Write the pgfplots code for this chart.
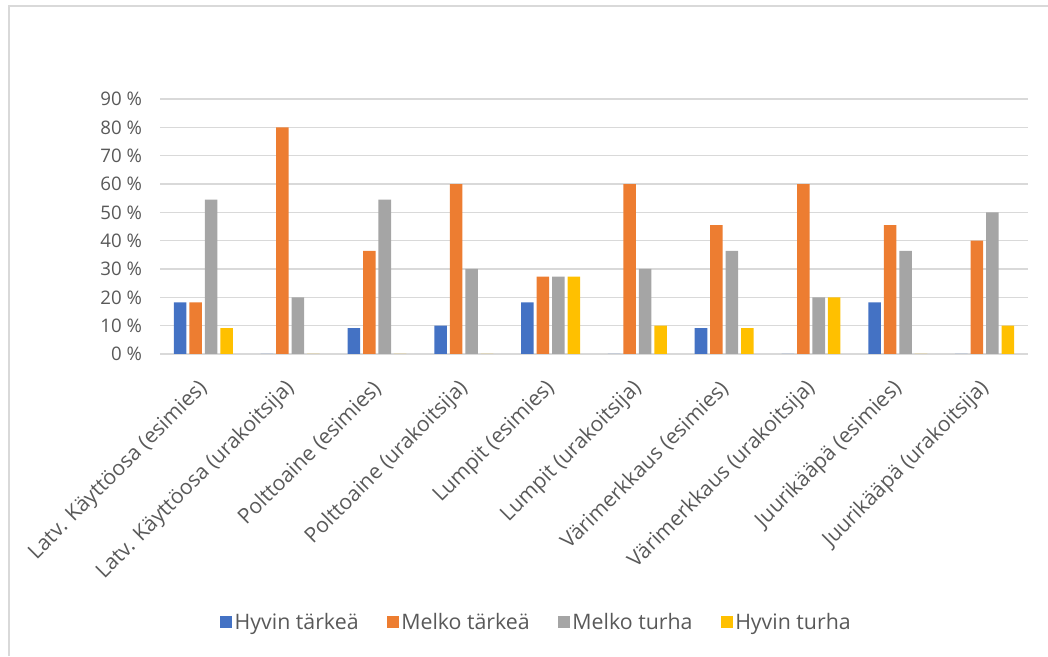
\documentclass[border=0pt]{standalone}
\usepackage{pgfplots}
\pgfplotsset{compat=1.18}
\usepackage{fontspec}
\setmainfont{Open Sans}
\definecolor{txt}{HTML}{595959}
\definecolor{gridc}{HTML}{D9D9D9}
\definecolor{c1}{HTML}{4472C4}
\definecolor{c2}{HTML}{ED7D31}
\definecolor{c3}{HTML}{A5A5A5}
\definecolor{c4}{HTML}{FFC000}
\begin{document}
\begin{tikzpicture}
% canvas and chart frame
\path[use as bounding box] (0,0) rectangle (786pt,492pt);
\draw[gridc, line width=1.5pt] (6.75pt,0) -- (6.75pt,487.5pt) -- (786pt,487.5pt);
\begin{axis}[
  at={(120pt,226.5pt)}, anchor=south west,
  scale only axis,
  width=651pt, height=191.25pt,
  ybar=2.2pt, bar width=9.4pt,
  xmin=-0.5, xmax=9.5,
  ymin=0, ymax=90,
  ytick={0,10,...,90},
  yticklabels={0 \%,10 \%,20 \%,30 \%,40 \%,50 \%,60 \%,70 \%,80 \%,90 \%},
  xtick={0,...,9},
  xticklabels={Latv. Käyttöosa (esimies),Latv. Käyttöosa (urakoitsija),Polttoaine (esimies),Polttoaine (urakoitsija),Lumpit (esimies),Lumpit (urakoitsija),Värimerkkaus (esimies),Värimerkkaus (urakoitsija),Juurikääpä (esimies),Juurikääpä (urakoitsija)},
  xticklabel style={xshift=3pt, yshift=-21pt, rotate=45, anchor=east, font=\fontsize{15.8}{18}\selectfont, text=txt},
  yticklabel style={font=\fontsize{14}{16}\selectfont, text=txt, xshift=-10pt},
  major tick length=0pt,
  axis line style={draw=none},
  ymajorgrids, grid style={gridc, line width=1.2pt},
  legend columns=4,
  legend style={at={(0.434,-1.051)}, anchor=center, draw=none, fill=none,
    font=\fontsize{16}{18}\selectfont, text=txt,
    /tikz/every even column/.append style={column sep=19pt}},
  legend image code/.code={\fill[#1] (-2.5pt,-4.5pt) rectangle (6.5pt,4.5pt);},
  every axis plot/.append style={draw=none},
]
\addplot[fill=c1] coordinates {(0,18.2) (1,0) (2,9.1) (3,10) (4,18.2) (5,0) (6,9.1) (7,0) (8,18.2) (9,0)};
\addplot[fill=c2] coordinates {(0,18.2) (1,80) (2,36.4) (3,60) (4,27.3) (5,60) (6,45.5) (7,60) (8,45.5) (9,40)};
\addplot[fill=c3] coordinates {(0,54.5) (1,20) (2,54.5) (3,30) (4,27.3) (5,30) (6,36.4) (7,20) (8,36.4) (9,50)};
\addplot[fill=c4] coordinates {(0,9.1) (1,0) (2,0) (3,0) (4,27.3) (5,10) (6,9.1) (7,20) (8,0) (9,10)};
\legend{Hyvin tärkeä,Melko tärkeä,Melko turha,Hyvin turha}
\end{axis}
\end{tikzpicture}
\end{document}
